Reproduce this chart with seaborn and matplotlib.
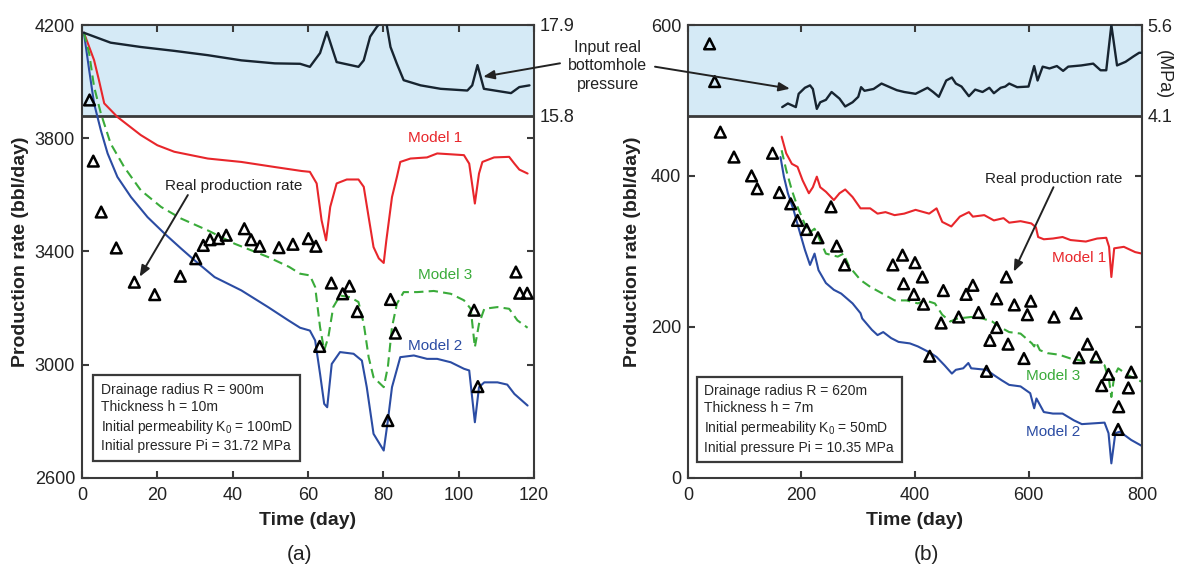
import matplotlib.pyplot as plt
import seaborn as sns

# ---------------- panel (a) ----------------
a_m1_day = [0.5, 3.2, 4.5, 5.9, 9.4, 15.6, 20, 24.5, 33.4, 42.3, 51.2, 58.3, 60.5, 62.3, 63.6, 64.8,
            65.9, 67.6, 70.3, 73.4, 74.8, 76.1, 77.4, 78.8, 80.1, 80.8, 82.3, 83.6, 84.5, 87.2, 91.6,
            94.3, 97.9, 101.4, 102.8, 104.3, 105.4, 106.3, 109.4, 113.4, 114.8, 116.1, 118.3]
a_m1_rate = [4173, 4076, 4005, 3923, 3875, 3811, 3775, 3752, 3728, 3716, 3698, 3684, 3681, 3640, 3510, 3439,
             3557, 3640, 3654, 3654, 3628, 3521, 3415, 3375, 3359, 3439, 3592, 3663, 3716, 3728, 3732,
             3746, 3743, 3740, 3710, 3569, 3675, 3716, 3732, 3734, 3710, 3689, 3675]

a_m2_day = [0.5, 1.9, 3.2, 5, 6.8, 9.4, 13, 17.4, 21.9, 26.3, 29.9, 35.2, 42.3, 49.4, 54.8, 57.9, 60.5,
            61.9, 63.2, 64.3, 65.1, 66.3, 68.5, 72.1, 74.3, 75.6, 77.4, 80.1, 81.2, 82.3, 84.5, 88.1,
            91.6, 94.3, 97.9, 101.4, 102.8, 104.3, 105.4, 106.8, 110.3, 112.9, 114.8, 118.3]
a_m2_rate = [4173, 4041, 3923, 3828, 3746, 3663, 3592, 3521, 3463, 3410, 3368, 3309, 3262, 3203, 3156, 3130, 3120,
             3085, 2967, 2861, 2849, 3002, 3044, 3038, 3014, 2920, 2755, 2696, 2802, 2920, 3026, 3032,
             3020, 3020, 3008, 2985, 2979, 2796, 2920, 2937, 2937, 2929, 2896, 2855]

a_m3_day = [0.5, 1.9, 3.2, 5, 7.6, 11.2, 15.6, 21, 26.3, 33.4, 40.5, 49.4, 55, 57.9, 60.5, 61.9, 63.2,
            64.3, 65.4, 66.7, 68.5, 71.2, 73.4, 74.8, 76.1, 77.4, 80.1, 81.2, 82.3, 83.6, 85.4, 89,
            93.4, 97.9, 101.4, 103.2, 104.3, 105.4, 106.8, 110.3, 113.4, 115.6, 118.3]
a_m3_rate = [4173, 4100, 3982, 3888, 3781, 3698, 3616, 3557, 3516, 3474, 3427, 3380, 3345, 3321, 3315, 3274, 3132,
             3050, 3097, 3203, 3244, 3238, 3221, 3144, 3026, 2955, 2920, 2991, 3132, 3215, 3256, 3256,
             3260, 3250, 3227, 3197, 3061, 3144, 3197, 3203, 3197, 3156, 3130]

a_real_day = [2.0, 3.0, 5.1, 9.1, 13.9, 19.3, 26.1, 30.2, 32.2, 34.0, 36.2, 38.3, 43.1, 44.9, 47.2, 52.3,
              56.0, 60.1, 62.1, 63.1, 66.2, 69.2, 71.0, 73.1, 81.2, 81.9, 83.2, 104.1, 105.1, 115.2, 116.2, 118.2]
a_real_rate = [3935, 3719, 3539, 3412, 3291, 3247, 3312, 3374, 3421, 3441, 3445, 3457, 3480, 3441, 3418, 3413,
               3425, 3445, 3418, 3064, 3288, 3250, 3277, 3187, 2802, 3230, 3111, 3192, 2922, 3327, 3252, 3252]

a_bhp_day = [0.5, 7.6, 15.6, 24.5, 33.4, 42.3, 51.2, 57.9, 60.5, 63.2, 65, 66.3, 67.6, 73.4, 74.8, 76.5,
             78.3, 79.5, 80.8, 81.9, 83.6, 85.4, 89.9, 95.2, 102.3, 103.6, 105, 106.7, 110.3, 113.9, 116.1, 118.8]
a_bhp = [17.72, 17.49, 17.39, 17.30, 17.20, 17.08, 17.01, 17.0, 16.93, 17.25, 17.74, 17.39, 17.04, 16.93, 17.08, 17.63,
         17.86, 17.98, 17.95, 17.39, 17.0, 16.62, 16.50, 16.42, 16.38, 16.50, 16.97, 16.42, 16.37, 16.32, 16.46, 16.50]

# ---------------- panel (b) ----------------
b_m1_day = [165, 173, 183, 193, 202, 213, 220, 227, 233, 243, 257, 267, 277, 290, 304, 321, 334, 348, 364,
            381, 401, 425, 438, 448, 464, 479, 495, 502, 522, 539, 556, 566, 586, 605, 613, 617, 627, 643,
            660, 674, 701, 721, 737, 742, 746, 751, 768, 788, 800]
b_m1_rate = [452, 430, 416, 412, 394, 377, 385, 399, 385, 379, 368, 377, 382, 372, 357, 357, 350, 352, 348,
             350, 355, 350, 357, 339, 333, 346, 352, 346, 348, 341, 344, 338, 340, 337, 332, 319, 316, 317,
             319, 315, 313, 317, 318, 306, 266, 304, 306, 299, 297]

b_m2_day = [163, 169, 176, 186, 196, 206, 215, 223, 230, 243, 257, 270, 290, 304, 307, 324, 334, 344, 358,
            371, 391, 405, 418, 428, 438, 452, 465, 472, 485, 494, 499, 526, 539, 553, 566, 586, 603, 610,
            614, 627, 643, 660, 680, 694, 714, 734, 741, 746, 753, 761, 781, 800]
b_m2_rate = [425, 399, 377, 355, 328, 302, 282, 297, 275, 258, 249, 244, 231, 218, 211, 196, 189, 193, 185,
             180, 178, 174, 169, 165, 160, 149, 138, 143, 145, 152, 145, 143, 136, 129, 123, 121, 112, 92,
             105, 87, 85, 85, 76, 71, 72, 73, 59, 19, 59, 61, 50, 42]

b_m3_day = [165, 173, 183, 193, 203, 213, 223, 230, 243, 264, 274, 284, 304, 321, 338, 364, 385, 405, 418,
            435, 448, 462, 475, 499, 519, 536, 549, 566, 586, 606, 610, 613, 620, 634, 654, 674, 701, 721,
            734, 742, 746, 751, 758, 775, 800]
b_m3_rate = [434, 408, 381, 359, 341, 324, 330, 319, 297, 293, 297, 280, 262, 253, 246, 235, 235, 231, 235,
             231, 216, 207, 211, 213, 211, 207, 200, 193, 191, 178, 174, 180, 169, 165, 163, 158, 154, 154,
             149, 129, 107, 134, 145, 136, 127]

b_real_day = [38, 47, 57, 81, 112, 122, 149, 161, 181, 193, 209, 229, 252, 262, 276, 361, 378, 380, 398,
              400, 413, 415, 426, 446, 450, 477, 490, 502, 512, 526, 532, 544, 544, 561, 564, 575, 592, 598,
              604, 645, 684, 689, 704, 719, 729, 741, 758, 759, 776, 781]
b_real_rate = [575, 525, 458, 425, 400, 383, 430, 378, 363, 341, 329, 318, 359, 307, 282, 282, 295, 257, 243,
               285, 266, 230, 161, 205, 248, 213, 243, 255, 219, 141, 182, 237, 199, 266, 177, 229, 158, 216,
               234, 213, 218, 159, 177, 160, 122, 137, 64, 94, 119, 140]

b_bhp_day = [166, 176, 190, 195, 206, 215, 220, 227, 233, 243, 253, 267, 277, 290, 300, 305, 311, 327, 341,
             358, 368, 381, 401, 422, 432, 442, 455, 465, 472, 482, 495, 506, 519, 531, 539, 551, 559, 566,
             580, 600, 610, 616, 625, 637, 650, 661, 670, 693, 714, 727, 737, 746, 756, 771, 785, 795, 800]
b_bhp = [4.24, 4.30, 4.24, 4.46, 4.56, 4.60, 4.54, 4.21, 4.32, 4.36, 4.49, 4.38, 4.25, 4.32, 4.41, 4.57, 4.51, 4.54, 4.63,
         4.56, 4.52, 4.49, 4.46, 4.56, 4.49, 4.41, 4.68, 4.73, 4.63, 4.58, 4.42, 4.53, 4.49, 4.56, 4.47, 4.56, 4.58, 4.63,
         4.57, 4.58, 4.92, 4.68, 4.91, 4.88, 4.92, 4.84, 4.91, 4.93, 4.96, 4.85, 4.85, 5.60, 4.93, 4.99, 5.08, 5.14, 5.14]

RED, BLUE, GREEN = "#e8262b", "#2b4ca3", "#3aab3a"
BAND, DARK, SPINE = "#d5eaf6", "#172430", "#3a3a3a"

sns.set_theme(style="white")
plt.rcParams.update({
    "font.family": ["Liberation Sans", "DejaVu Sans"],
    "mathtext.fontset": "custom",
    "mathtext.rm": "Liberation Sans",
    "axes.edgecolor": SPINE,
    "axes.linewidth": 1.5,
})

fig = plt.figure(figsize=(11.84, 5.77), dpi=100)
ax_a = fig.add_axes([82 / 1184, 1 - 477.7 / 577, 452 / 1184, 452.7 / 577])
ax_b = fig.add_axes([688 / 1184, 1 - 477.7 / 577, 454 / 1184, 452.7 / 577])


def draw_panel(ax, m1, m2, m3, real, bhp, xlim, ylim, band_lo, plim, xticks, yticks, pticks, box):
    ax.axhspan(band_lo, ylim[1], color=BAND, lw=0, zorder=0)
    ax.axhline(band_lo, color=SPINE, lw=2, zorder=1)
    kw = dict(ax=ax, sort=False, estimator=None, lw=1.5)
    sns.lineplot(x=m1[0], y=m1[1], color=RED, **kw)
    sns.lineplot(x=m2[0], y=m2[1], color=BLUE, **kw)
    sns.lineplot(x=m3[0], y=m3[1], color=GREEN, linestyle=(0, (4.5, 2.5)), **kw)
    sns.scatterplot(x=real[0], y=real[1], ax=ax, marker="^", s=60, facecolor="none",
                    edgecolor="black", linewidth=1.8, zorder=5)
    ax.set_xlim(*xlim)
    ax.set_ylim(*ylim)
    ax.set_xticks(xticks)
    ax.set_yticks(yticks)

    tw = ax.twinx()
    sns.lineplot(x=bhp[0], y=bhp[1], ax=tw, color=DARK, lw=1.7, sort=False, estimator=None)
    tw.set_ylim(*plim)
    tw.set_yticks(pticks)
    tw.set_yticklabels([f"{p:.1f}" for p in pticks])
    tw.tick_params(axis="y", length=0, pad=4, labelsize=13, labelcolor="#222")
    for s in tw.spines.values():
        s.set_visible(False)

    ax.tick_params(direction="in", top=True, right=True, left=True, bottom=True,
                   length=5, width=1.5, color=SPINE, labelsize=13, labelcolor="#222")
    ax.tick_params(axis="x", pad=7)
    ax.tick_params(axis="y", pad=5, labelright=False)
    ax.set_xlabel("Time (day)", fontsize=14, fontweight="bold", color="#222")
    ax.set_ylabel("Production rate (bbl/day)", fontsize=14, fontweight="bold", color="#222")
    ax.xaxis.set_label_coords(0.5, -0.075)

    ax.text(box[0], box[1], box[2], ha="left", va="top", fontsize=10, linespacing=1.3,
            bbox=dict(boxstyle="square,pad=0.55", fc="white", ec=SPINE, lw=1.6), zorder=6)
    return tw


tw_a = draw_panel(ax_a, (a_m1_day, a_m1_rate), (a_m2_day, a_m2_rate), (a_m3_day, a_m3_rate),
                  (a_real_day, a_real_rate), (a_bhp_day, a_bhp), (0, 120), (2600, 4200), 3880,
                  (7.4, 17.9), range(0, 121, 20), range(2600, 4201, 400), [15.8, 17.9],
                  (5.0, 2935, "Drainage radius R = 900m\nThickness h = 10m\n"
                   "Initial permeability K$_\\mathregular{0}$ = 100mD\nInitial pressure Pi = 31.72 MPa"))
tw_b = draw_panel(ax_b, (b_m1_day, b_m1_rate), (b_m2_day, b_m2_rate), (b_m3_day, b_m3_rate),
                  (b_real_day, b_real_rate), (b_bhp_day, b_bhp), (0, 800), (0, 600), 480,
                  (-1.9, 5.6), range(0, 801, 200), range(0, 601, 200), [4.1, 5.6],
                  (29, 124, "Drainage radius R = 620m\nThickness h = 7m\n"
                   "Initial permeability K$_\\mathregular{0}$ = 50mD\nInitial pressure Pi = 10.35 MPa"))
ax_a.yaxis.set_label_coords(-0.117, 0.5)
ax_b.yaxis.set_label_coords(-0.104, 0.5)

# curve labels
ax_a.text(93.7, 3799, "Model 1", color=RED, fontsize=11, ha="center", va="center")
ax_a.text(96.4, 3316, "Model 3", color=GREEN, fontsize=11, ha="center", va="center")
ax_a.text(93.7, 3065, "Model 2", color=BLUE, fontsize=11, ha="center", va="center")
ax_b.text(690, 291, "Model 1", color=RED, fontsize=11, ha="center", va="center")
ax_b.text(644, 135, "Model 3", color=GREEN, fontsize=11, ha="center", va="center")
ax_b.text(643, 60, "Model 2", color=BLUE, fontsize=11, ha="center", va="center")

arrow = dict(arrowstyle="-|>,head_length=0.55,head_width=0.22", color="#222", lw=1.4,
             shrinkA=0, shrinkB=0)
ax_a.text(40.4, 3631, "Real production rate", fontsize=11, ha="center", va="center", color="#222")
ax_a.annotate("", xy=(15.3, 3310), xytext=(28.1, 3599), arrowprops=arrow)
ax_b.text(645, 396, "Real production rate", fontsize=11, ha="center", va="center", color="#222")
ax_b.annotate("", xy=(574, 273), xytext=(644, 385), arrowprops=arrow)

fig.text(607.7 / 1184, 1 - 65.7 / 577, "Input real\nbottomhole\npressure", fontsize=11.5,
         ha="center", va="center", linespacing=1.3, color="#222")
tw_a.annotate("", xy=(106.5, 16.7), xytext=(560 / 1184, 1 - 63.3 / 577),
              textcoords="figure fraction", arrowprops=arrow, annotation_clip=False)
tw_b.annotate("", xy=(179.7, 4.545), xytext=(655 / 1184, 1 - 66.7 / 577),
              textcoords="figure fraction", arrowprops=arrow, annotation_clip=False)
fig.text(1163 / 1184, 1 - 75 / 577, "(MPa)", fontsize=13, rotation=270,
         ha="center", va="center", color="#222")

fig.text(300 / 1184, 1 - 555 / 577, "(a)", fontsize=15, ha="center", va="center", color="#222")
fig.text(926 / 1184, 1 - 555 / 577, "(b)", fontsize=15, ha="center", va="center", color="#222")

fig.savefig("out.png", dpi=100)
